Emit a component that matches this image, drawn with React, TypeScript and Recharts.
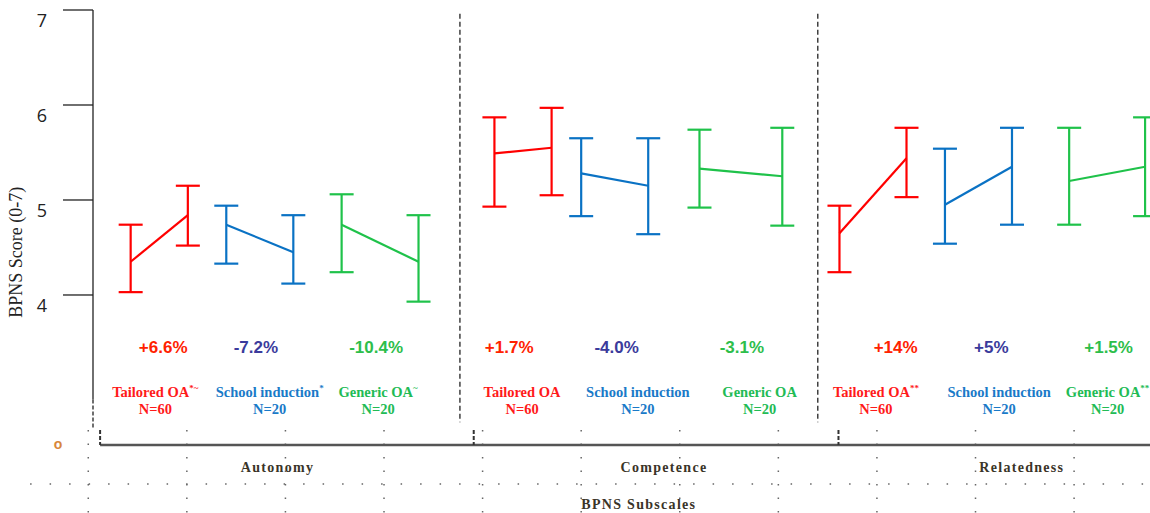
import { ComposedChart, Line, ErrorBar, XAxis, YAxis, ReferenceLine, ReferenceDot } from "recharts"

// BPNS scores pre / post, per subscale (rows) and group (columns)
const subscales = ["Autonomy", "Competence", "Relatedness"]
const groups = ["Tailored OA", "School induction", "Generic OA"]
const groupN = [60, 20, 20]

// position along the x axis (one unit = one dotted grid column)
const prePos = [
  [0.43, 1.4, 2.57],
  [4.12, 5.0, 6.2],
  [7.62, 8.69, 9.95],
]
const postPos = [
  [1.01, 2.08, 3.35],
  [4.7, 5.68, 7.04],
  [8.3, 9.37, 10.72],
]

const preMean = [
  [4.35, 4.74, 4.74],
  [5.49, 5.28, 5.33],
  [4.65, 4.95, 5.2],
]
const preLow = [
  [4.03, 4.33, 4.24],
  [4.93, 4.83, 4.92],
  [4.24, 4.54, 4.74],
]
const preHigh = [
  [4.74, 4.94, 5.06],
  [5.87, 5.65, 5.74],
  [4.94, 5.54, 5.76],
]
const postMean = [
  [4.84, 4.45, 4.35],
  [5.55, 5.15, 5.25],
  [5.44, 5.35, 5.35],
]
const postLow = [
  [4.52, 4.12, 3.93],
  [5.05, 4.64, 4.73],
  [5.03, 4.74, 4.83],
]
const postHigh = [
  [5.15, 4.84, 4.84],
  [5.97, 5.65, 5.76],
  [5.76, 5.76, 5.87],
]

const changes = [
  ["+6.6%", "-7.2%", "-10.4%"],
  ["+1.7%", "-4.0%", "-3.1%"],
  ["+14%", "+5%", "+1.5%"],
]
const marks = [
  ["*~", "*", "~"],
  ["", "", ""],
  ["**", "", "**"],
]

const yTicks = [4, 5, 6, 7]
const subscaleTickPos = [1.92, 5.84, 9.47]

// layout (axis units)
const X_MIN = 0.048
const X_MAX = 10.77
const Y_MIN = 1.705
const Y_MAX = 7
const BASELINE = 2.42
const PCT_Y = 3.39
const LABEL_Y = 2.93
const N_Y = 2.75
const SUB_Y = 2.14
const TITLE_Y = 1.75
// anchors for the annotation texts under each pair
const pctPos = [
  [0.76, 1.7, 2.92],
  [4.27, 5.36, 6.63],
  [8.19, 9.16, 10.35],
]
const labelPos = [
  [0.68, 1.84, 2.94],
  [4.4, 5.575, 6.81],
  [7.99, 9.24, 10.34],
]

const lineColors = ["#FF0000", "#0A72C4", "#1FC24A"]
const pctColors = ["#FF2200", "#3B3B9C", "#2DBE4B"]
const labelColors = ["#FF1A1A", "#1A7AC8", "#22BB55"]

const series = subscales.flatMap((s, si) =>
  groups.map((g, gi) => ({
    key: `${s}-${g}`,
    si,
    gi,
    points: [
      { x: prePos[si][gi], mean: preMean[si][gi], err: [preMean[si][gi] - preLow[si][gi], preHigh[si][gi] - preMean[si][gi]] },
      { x: postPos[si][gi], mean: postMean[si][gi], err: [postMean[si][gi] - postLow[si][gi], postHigh[si][gi] - postMean[si][gi]] },
    ],
  }))
)

const YTick = (props: any) => {
  const { x, y, payload } = props
  if (payload.value === BASELINE) {
    return (
      <text x={x - 35} y={y + 4} textAnchor="middle" fontFamily="Liberation Sans" fontWeight={700} fontSize={14} fill="#D8873A">
        o
      </text>
    )
  }
  return (
    <g>
      <line x1={x - 30} x2={x} y1={y} y2={y} stroke="#222" strokeWidth={1.3} />
      <text x={x - 51} y={y + 10} textAnchor="middle" dominantBaseline="central" fontFamily="Open Sans" fontSize={18} fill="#222">
        {payload.value}
      </text>
    </g>
  )
}

const textShape = (content: any, style: any) => (p: any) =>
  (
    <text x={p.cx} y={p.cy} textAnchor="middle" {...style}>
      {content}
    </text>
  )

const gridCols = [0, 1, 2, 3, 4, 5, 6, 7, 8, 9, 10]
const subStyle = { fontFamily: "Liberation Serif", fontWeight: 700, fontSize: 14, letterSpacing: 1.3, fill: "#3a3428" }

export default function App() {
  return (
    <div style={{ width: 1150, height: 513, background: "#fff" }}>
      <style>{`body{margin:0}`}</style>
      <ComposedChart width={1150} height={513} margin={{ top: 10, right: 0, bottom: 0, left: 0 }}>
        <XAxis type="number" dataKey="x" domain={[X_MIN, X_MAX]} hide allowDataOverflow />
        <YAxis
          type="number"
          domain={[Y_MIN, Y_MAX]}
          ticks={[BASELINE, ...yTicks]}
          width={93}
          tickSize={0}
          tickMargin={0}
          tickLine={false}
          axisLine={false}
          tick={<YTick />}
          allowDataOverflow
        />

        {/* dotted grid below the chart */}
        {gridCols.map((c) => (
          <ReferenceLine
            key={`g${c}`}
            segment={[{ x: c, y: 2.58 }, { x: c, y: Y_MIN }]}
            stroke="#666"
            strokeWidth={1.5}
            strokeDasharray="1.5 12"
            ifOverflow="visible"
          />
        ))}
        <ReferenceLine
          segment={[{ x: -0.59, y: 2.01 }, { x: X_MAX, y: 2.01 }]}
          stroke="#666"
          strokeWidth={1.5}
          strokeDasharray="1.5 18"
          ifOverflow="visible"
        />

        {/* y axis: solid, then dashed break */}
        <ReferenceLine segment={[{ x: X_MIN, y: Y_MAX }, { x: X_MIN, y: 2.9 }]} stroke="#222" strokeWidth={1.3} ifOverflow="visible" />
        <ReferenceLine segment={[{ x: X_MIN, y: 2.9 }, { x: X_MIN, y: 2.6 }]} stroke="#222" strokeWidth={1.3} strokeDasharray="4 2" ifOverflow="visible" />

        {/* x axis baseline and stubs */}
        <ReferenceLine segment={[{ x: 0.12, y: BASELINE }, { x: X_MAX, y: BASELINE }]} stroke="#555" strokeWidth={2.5} ifOverflow="visible" />
        {[0.12, 3.91, 7.61].map((sx) => (
          <ReferenceLine key={`s${sx}`} segment={[{ x: sx, y: 2.58 }, { x: sx, y: BASELINE }]} stroke="#333" strokeWidth={2} strokeDasharray="4 2" ifOverflow="visible" />
        ))}

        {/* subscale separators */}
        {[3.77, 7.4].map((sx) => (
          <ReferenceLine key={`sep${sx}`} segment={[{ x: sx, y: 6.96 }, { x: sx, y: 2.66 }]} stroke="#333" strokeWidth={1.4} strokeDasharray="5 3" ifOverflow="visible" />
        ))}

        {series.map((s) => (
          <Line
            key={s.key}
            data={s.points}
            dataKey="mean"
            stroke={lineColors[s.gi]}
            strokeWidth={2.2}
            dot={false}
            activeDot={false}
            isAnimationActive={false}
          >
            <ErrorBar dataKey="err" direction="y" width={12} strokeWidth={2.2} stroke={lineColors[s.gi]} isAnimationActive={false} />
          </Line>
        ))}

        {series.map((s) => (
          <ReferenceDot
            key={`p${s.key}`}
            x={pctPos[s.si][s.gi]}
            y={PCT_Y}
            r={0}
            ifOverflow="visible"
            shape={textShape(changes[s.si][s.gi], {
              fontFamily: "Liberation Sans",
              fontWeight: 700,
              fontSize: 17,
              fill: pctColors[s.gi],
            })}
          />
        ))}
        {series.map((s) => (
          <ReferenceDot
            key={`l${s.key}`}
            x={labelPos[s.si][s.gi]}
            y={LABEL_Y}
            r={0}
            ifOverflow="visible"
            shape={textShape(
              <>
                {groups[s.gi]}
                {marks[s.si][s.gi] && (
                  <tspan fontSize={9} dy={-6}>
                    {marks[s.si][s.gi]}
                  </tspan>
                )}
              </>,
              { fontFamily: "Liberation Serif", fontWeight: 700, fontSize: 14.5, fill: labelColors[s.gi] }
            )}
          />
        ))}
        {series.map((s) => (
          <ReferenceDot
            key={`n${s.key}`}
            x={labelPos[s.si][s.gi]}
            y={N_Y}
            r={0}
            ifOverflow="visible"
            shape={textShape(`N=${groupN[s.gi]}`, {
              fontFamily: "Liberation Serif",
              fontWeight: 700,
              fontSize: 14.5,
              fill: labelColors[s.gi],
            })}
          />
        ))}

        {subscales.map((s, i) => (
          <ReferenceDot
            key={`sub${s}`}
            x={subscaleTickPos[i]}
            y={SUB_Y}
            r={0}
            ifOverflow="visible"
            shape={textShape(s, subStyle)}
          />
        ))}
        <ReferenceDot x={5.585} y={TITLE_Y} r={0} ifOverflow="visible" shape={textShape("BPNS Subscales", subStyle)} />
        <ReferenceDot
          x={-0.733}
          y={4.45}
          r={0}
          ifOverflow="visible"
          shape={(p: any) => (
            <text
              transform={`translate(${p.cx + 6}, ${p.cy}) rotate(-90)`}
              textAnchor="middle"
              fontFamily="Liberation Serif"
              fontSize={18}
              fill="#222"
            >
              BPNS Score (0-7)
            </text>
          )}
        />
      </ComposedChart>
    </div>
  )
}
